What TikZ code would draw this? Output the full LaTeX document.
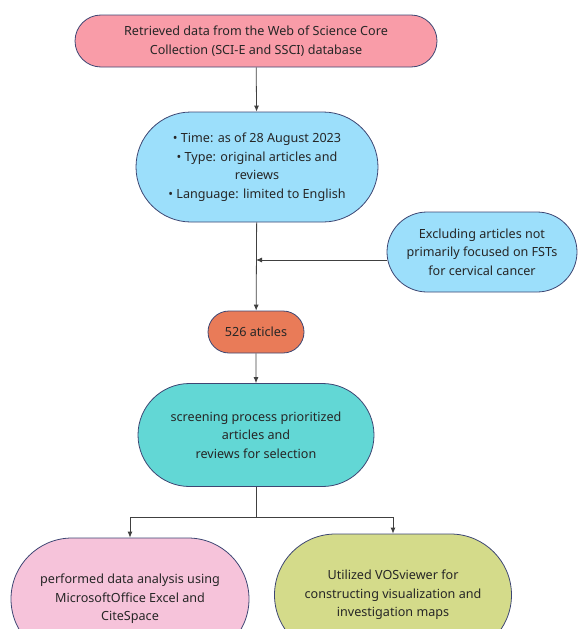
\documentclass[tikz,border=0pt]{standalone}
\usepackage{fontspec}
\setmainfont{Noto Sans}
\usetikzlibrary{shapes.misc,arrows.meta}
\definecolor{boxline}{HTML}{3D4673}
\definecolor{toppink}{HTML}{F99CA8}
\definecolor{skyblue}{HTML}{9CDFFB}
\definecolor{orangebox}{HTML}{E97B58}
\definecolor{tealbox}{HTML}{62D7D5}
\definecolor{lightpink}{HTML}{F6C3DA}
\definecolor{olivebox}{HTML}{D4DB8A}
\begin{document}
\begin{tikzpicture}[x=1pt,y=-1pt,
	stage/.style={rounded rectangle,draw=boxline,line width=0.8pt,align=center,
		font=\fontsize{12.6}{18.5}\selectfont,text=black!85,inner sep=0pt},
	arr/.style={draw=black!75,line width=0.8pt,-{Latex[length=6pt,width=5pt]}}]
	\useasboundingbox (0,0) rectangle (581,629);
	\clip (0,0) rectangle (581,629);
	% boxes
	\node[stage,fill=toppink,minimum width=362pt,minimum height=52pt] (db) at (256,41)
		{Retrieved data from the Web of Science Core\\Collection (SCI-E and SSCI) database};
	\node[stage,fill=skyblue,minimum width=242pt,minimum height=110pt] (crit) at (257,167)
		{• Time: as of 28 August 2023\\• Type: original articles and\\reviews\\• Language: limited to English};
	\node[stage,fill=skyblue,minimum width=190pt,minimum height=80pt] (excl) at (482,252)
		{Excluding articles not\\primarily focused on FSTs\\for cervical cancer};
	\node[stage,fill=orangebox,minimum width=96pt,minimum height=42pt] (num) at (256,332)
		{526 aticles};
	\node[stage,fill=tealbox,minimum width=236pt,minimum height=103pt] (screen) at (256,435)
		{screening process prioritized\\articles and\\reviews for selection};
	\node[stage,fill=lightpink,minimum width=238pt,minimum height=122pt] (excel) at (130,599)
		{performed data analysis using\\MicrosoftOffice Excel and\\CiteSpace};
	\node[stage,fill=olivebox,minimum width=237pt,minimum height=122pt] (vos) at (393,595)
		{Utilized VOSviewer for\\constructing visualization and\\investigation maps};
	% connectors
	\coordinate (join) at (256,260);
	\coordinate (fork) at (256,517);
	\draw[arr] (db) -- (crit);
	\draw[arr] (crit) -- (num);
	\draw[arr] (excl.west |- join) -- (join);
	\draw[arr] (num) -- (screen);
	\draw[draw=black!75,line width=0.8pt] (screen.south) -- (fork);
	\draw[arr] (fork) -| (excel.north);
	\draw[arr] (fork) -| (vos.north);
\end{tikzpicture}
\end{document}
